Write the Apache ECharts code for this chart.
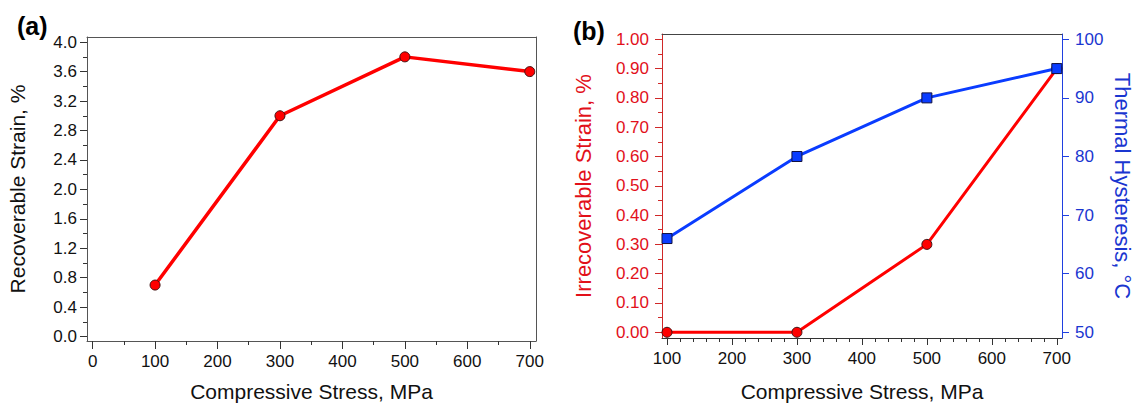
<!DOCTYPE html>
<html><head><meta charset="utf-8">
<script src="https://cdn.jsdelivr.net/npm/echarts@6/dist/echarts.min.js"></script>
<style>html,body{margin:0;padding:0;background:#fff}#c{width:1136px;height:405px}</style>
</head><body><div id="c"></div>
<script>
// ---- data ----
const stressA = [100, 300, 500, 700];
const recoverableStrain = [0.7, 3.0, 3.8, 3.6];
const stressB = [100, 300, 500, 700];
const irrecoverableStrain = [0.00, 0.00, 0.30, 0.90];
const thermalHysteresis = [66, 80, 90, 95];
const aXTicks = [0, 100, 200, 300, 400, 500, 600, 700];
const aYTicks = [0, 0.4, 0.8, 1.2, 1.6, 2.0, 2.4, 2.8, 3.2, 3.6, 4.0];
const bXTicks = [100, 200, 300, 400, 500, 600, 700];
const bYLeftTicks = [0, 0.1, 0.2, 0.3, 0.4, 0.5, 0.6, 0.7, 0.8, 0.9, 1.0];
const bYRightTicks = [50, 60, 70, 80, 90, 100];

// ---- helpers ----
function minors(majors, n) {
  const out = [];
  for (let i = 0; i < majors.length - 1; i++) {
    const a = majors[i], b = majors[i + 1];
    for (let k = 1; k < n; k++) out.push(a + (b - a) * k / n);
  }
  return out;
}
const FONT = 'Liberation Sans, Arial, sans-serif';
const RED = '#ff0000', BLUE = '#0a3cff';
const RED_AX = '#d02828', RED_TXT = '#e2101a';
const BLUE_AX = '#2040e0', BLUE_TXT = '#1a36d0';
const FRAME = '#555';

function axis(o) {
  const a = {
    type: 'value', gridIndex: o.grid, position: o.pos, min: o.min, max: o.max,
    axisLine: { show: !!o.line, onZero: false, lineStyle: { color: o.lineColor || FRAME, width: 1 } },
    axisTick: o.ticks ? { show: true, inside: false, length: o.tickLen, customValues: o.ticks,
      lineStyle: { color: o.tickColor || '#333', width: 1 } } : { show: false },
    axisLabel: o.labels ? { show: true, customValues: o.labels, margin: o.margin, fontSize: o.fontSize || 17,
      color: o.labelColor || '#111', fontFamily: FONT, formatter: o.fmt } : { show: false },
    splitLine: { show: false }
  };
  if (o.name) {
    a.name = o.name; a.nameLocation = 'middle'; a.nameGap = o.nameGap;
    if (o.nameRotate != null) a.nameRotate = o.nameRotate;
    a.nameTextStyle = { fontSize: o.nameSize || 21, color: o.nameColor || '#111', fontFamily: FONT };
  }
  return a;
}

const aX = { min: -9, max: 710 }, aY = { min: -0.06, max: 4.07 };
const bX = { min: 92.3, max: 708 }, bYL = { min: -0.0195, max: 1.018 }, bYR = { min: 49.03, max: 100.9 };

const option = {
  animation: false,
  backgroundColor: '#fff',
  grid: [
    { left: 87, top: 37, width: 449, height: 304, outerBoundsMode: 'none', containLabel: false },
    { left: 662, top: 34, width: 400, height: 304, outerBoundsMode: 'none', containLabel: false }
  ],
  xAxis: [
    axis({ grid: 0, pos: 'bottom', ...aX, line: true, ticks: aXTicks, tickLen: 8, labels: aXTicks, margin: 12,
      fmt: v => String(Math.round(v)), name: 'Compressive Stress, MPa', nameGap: 40 }),
    axis({ grid: 0, pos: 'bottom', ...aX, ticks: minors(aXTicks, 2), tickLen: 4 }),
    axis({ grid: 0, pos: 'top', ...aX, line: true }),
    axis({ grid: 1, pos: 'bottom', ...bX, line: true, lineColor: '#333', ticks: bXTicks, tickLen: 7, labels: bXTicks, margin: 12,
      fmt: v => String(Math.round(v)), name: 'Compressive Stress, MPa', nameGap: 43 }),
    axis({ grid: 1, pos: 'bottom', ...bX, ticks: minors(bXTicks, 5), tickLen: 4 }),
    axis({ grid: 1, pos: 'top', ...bX, line: true, lineColor: '#444' })
  ],
  yAxis: [
    axis({ grid: 0, pos: 'left', ...aY, line: true, ticks: aYTicks, tickLen: 7, labels: aYTicks, margin: 10,
      fmt: v => v.toFixed(1), name: 'Recoverable Strain, %', nameGap: 59 }),
    axis({ grid: 0, pos: 'left', ...aY, ticks: minors(aYTicks, 2), tickLen: 4 }),
    axis({ grid: 0, pos: 'right', ...aY, line: true }),
    axis({ grid: 1, pos: 'left', ...bYL, line: true, lineColor: RED_AX, ticks: bYLeftTicks, tickColor: RED_AX, tickLen: 7,
      labels: bYLeftTicks, labelColor: RED_TXT, margin: 13, fmt: v => v.toFixed(2),
      name: 'Irrecoverable Strain, %', nameGap: 68, nameColor: RED_TXT, nameSize: 22 }),
    axis({ grid: 1, pos: 'left', ...bYL, ticks: minors(bYLeftTicks, 2), tickColor: RED_AX, tickLen: 4 }),
    axis({ grid: 1, pos: 'right', ...bYR, line: true, lineColor: BLUE_AX, ticks: bYRightTicks, tickColor: BLUE_AX, tickLen: 7,
      labels: bYRightTicks, labelColor: BLUE_TXT, margin: 13, fmt: v => String(Math.round(v)),
      name: 'Thermal Hysteresis, \u00B0C', nameGap: 49, nameRotate: -90, nameColor: BLUE_TXT, nameSize: 22 })
  ],
  graphic: [
    { type: 'text', left: 17, top: 13, style: { text: '(a)', font: 'bold 25px ' + FONT, fill: '#000' } },
    { type: 'text', left: 573, top: 18, style: { text: '(b)', font: 'bold 25px ' + FONT, fill: '#000' } }
  ],
  series: [
    { type: 'line', xAxisIndex: 0, yAxisIndex: 0, z: 3,
      data: stressA.map((x, i) => [x, recoverableStrain[i]]),
      symbol: 'circle', symbolSize: 10, lineStyle: { color: RED, width: 3.5 },
      itemStyle: { color: RED, borderColor: '#401010', borderWidth: 1 } },
    { type: 'line', xAxisIndex: 3, yAxisIndex: 3, z: 3,
      data: stressB.map((x, i) => [x, irrecoverableStrain[i]]),
      symbol: 'circle', symbolSize: 10, lineStyle: { color: RED, width: 3 },
      itemStyle: { color: RED, borderColor: '#401010', borderWidth: 1 } },
    { type: 'line', xAxisIndex: 3, yAxisIndex: 5, z: 4,
      data: stressB.map((x, i) => [x, thermalHysteresis[i]]),
      symbol: 'rect', symbolSize: 10, lineStyle: { color: BLUE, width: 3 },
      itemStyle: { color: BLUE, borderColor: '#101040', borderWidth: 1 } }
  ]
};
const chart = echarts.init(document.getElementById('c'), null, { renderer: 'svg' });
chart.setOption(option);
</script></body></html>
